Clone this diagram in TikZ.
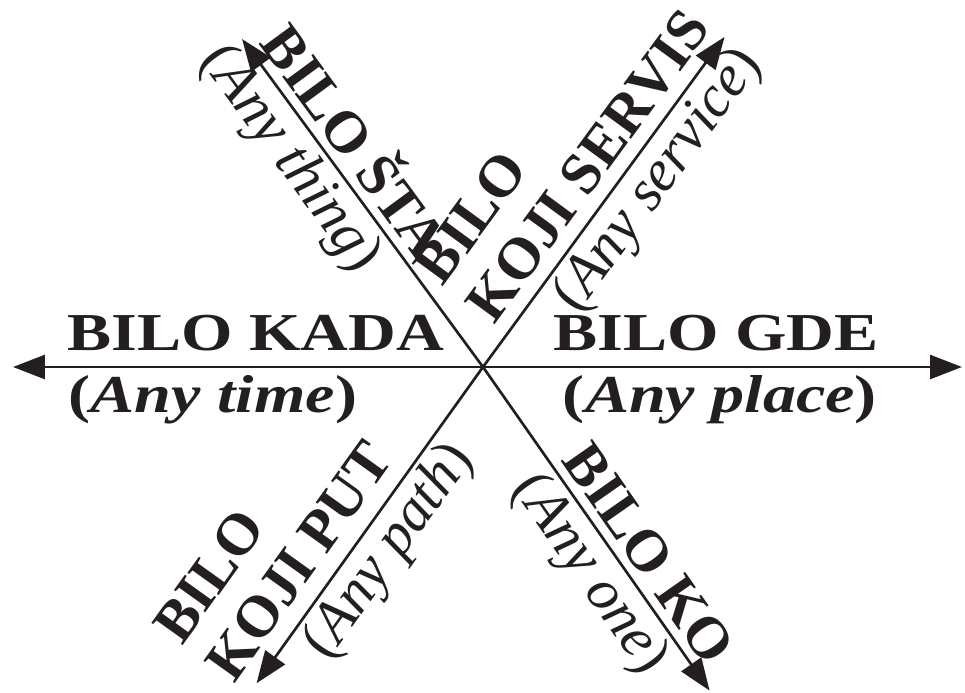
\documentclass[tikz,border=0pt]{standalone}
\usepackage{fontspec}
\setmainfont{Liberation Serif}
\usetikzlibrary{arrows.meta}
\definecolor{ink}{RGB}{35,31,32}
\begin{document}
\begin{tikzpicture}[x=0.75pt,y=0.75pt, arr/.style={-{Triangle[length=24pt,width=18pt]},line width=2pt,draw=ink}, lbl/.style={font=\fontsize{44}{48}\selectfont\bfseries,text=ink,inner sep=0pt}, sub/.style={font=\fontsize{44}{48}\selectfont,text=ink,inner sep=0pt}, wide/.style={font=\fontsize{40}{44}\selectfont\bfseries,text=ink,inner sep=0pt,xscale=1.24}]
\useasboundingbox (-483,-326) rectangle (482,367);
\coordinate (c) at (0,0);
\coordinate (w) at (-470,0); \coordinate (e) at (479,0);
\draw[arr] (c)--(w); \draw[arr] (c)--(e);
\node[wide,anchor=base] (kada) at (-227,17) {BILO KADA};
\node[wide,anchor=base] (time) at (-270,-45) {(\textit{Any time})};
\node[wide,anchor=base] (gde) at (233,17) {BILO GDE};
\node[wide,anchor=base] (place) at (237,-45) {(\textit{Any place})};
\begin{scope}[rotate=-53.7,transform shape]
\coordinate (nw) at (-407,0); \draw[arr] (c)--(nw);
\node[lbl,anchor=base] (sta) at (-258,10) {BILO ŠTA};
\node[sub,anchor=north] (thing) at (-282,-6) {(\textit{Any thing})};
\end{scope}
\begin{scope}[rotate=53.8,transform shape]
\coordinate (ne) at (409,0); \draw[arr] (c)--(ne);
\node[lbl,anchor=south west,align=left] (servis) at (40,14) {BILO\\KOJI SERVIS};
\node[sub,anchor=north] (service) at (254,-5) {(\textit{Any service})};
\end{scope}
\begin{scope}[rotate=54.4,transform shape]
\coordinate (sw) at (-389,0); \draw[arr] (c)--(sw);
\node[lbl,anchor=south west,align=left] (put) at (-403,17) {BILO\\KOJI PUT};
\node[sub,anchor=north] (path) at (-205,-5) {(\textit{Any path})};
\end{scope}
\begin{scope}[rotate=-55,transform shape]
\coordinate (se) at (395,0); \draw[arr] (c)--(se);
\node[lbl,anchor=base] (ko) at (248,10) {BILO KO};
\node[sub,anchor=north] (one) at (231,-5) {(\textit{Any one})};
\end{scope}
\end{tikzpicture}
\end{document}
